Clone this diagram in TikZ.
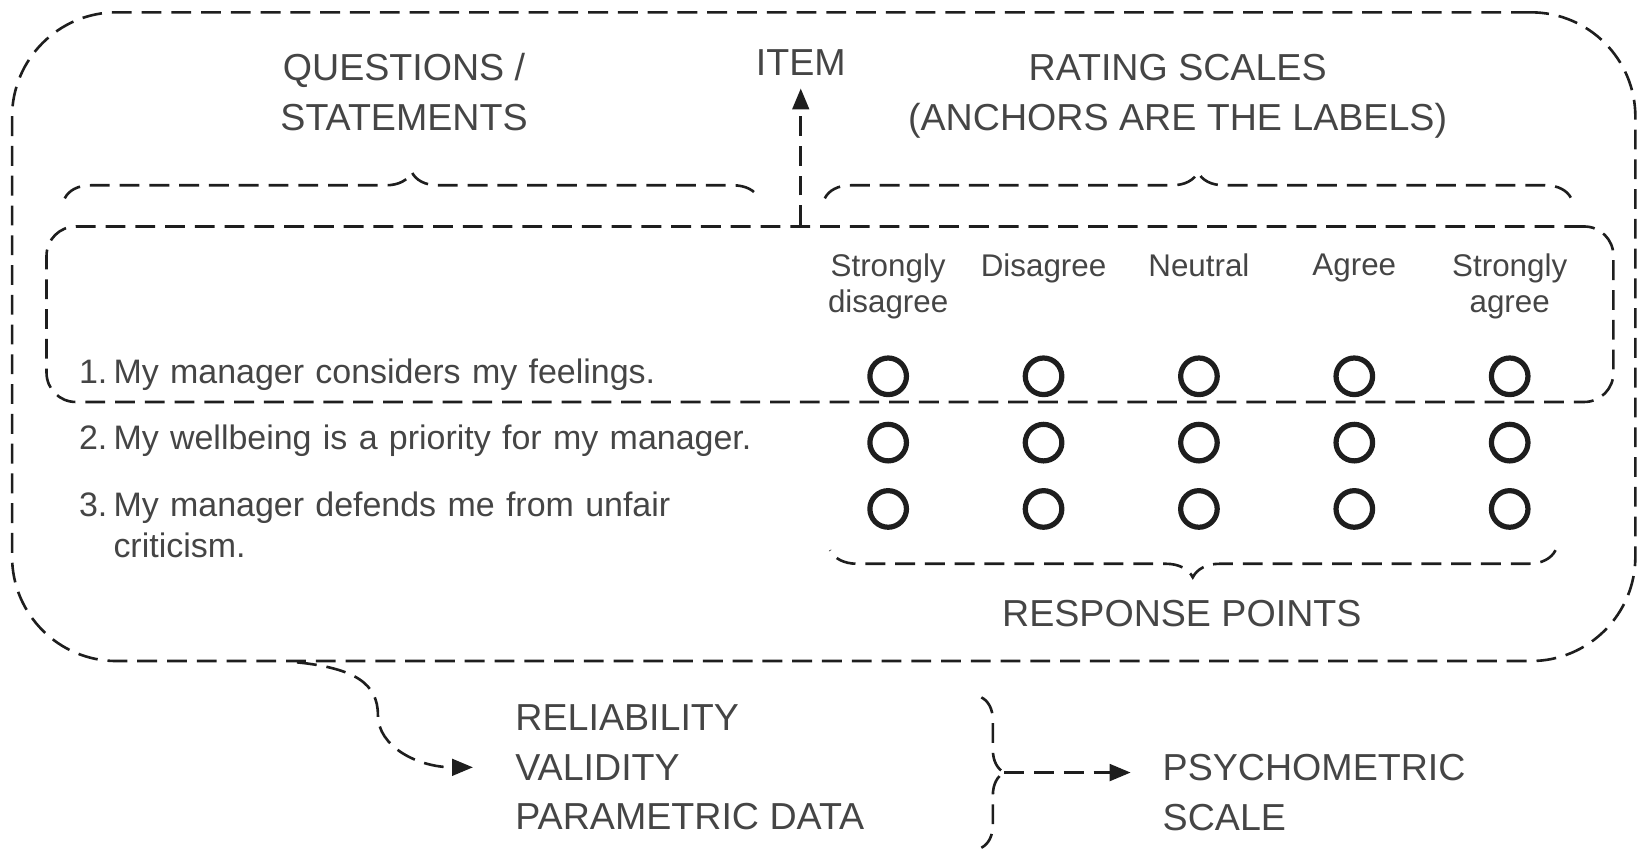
\documentclass[tikz,border=0pt]{standalone}
\usepackage{fontspec}
\setmainfont{Liberation Sans}
\usetikzlibrary{matrix,positioning,shapes.geometric,arrows.meta,decorations.pathreplacing}

\definecolor{ink}{HTML}{1E1E1E}
\definecolor{textgray}{HTML}{454545}
\newcommand{\capsfont}{\fontsize{10.24pt}{13.5pt}\selectfont}
\newcommand{\stmtfont}{\fontsize{9.25pt}{11.1pt}\selectfont}
\newcommand{\headfont}{\fontsize{8.54pt}{9.67pt}\selectfont}
\newcommand{\qnum}[1]{\makebox[0.33cm][l]{#1}}

\tikzset{
  dashline/.style={draw=ink, line width=0.025cm, dash pattern=on 0.19cm off 0.095cm},
  frame/.style={dashline, inner sep=0pt},
  bigtext/.style={text=textgray, font=\capsfont, align=center},
  stmt/.style={anchor=base west, inner sep=0pt, text width=6.9cm, align=left, font=\stmtfont, text=textgray},
  link/.style={dashline, -{Triangle[length=0.2cm,width=0.16cm]}},
  curly/.style={dashline, decorate, decoration={brace, amplitude=#1}},
}

\begin{document}
\begin{tikzpicture}[x=0.01cm, y=-0.01cm]
\useasboundingbox (0,0) rectangle (1568,816);

\node[frame, rounded corners=1.0cm, minimum width=15.54cm, minimum height=6.21cm] (outer) at (789,322.5) {};
\node[frame, rounded corners=0.28cm, minimum width=15.00cm, minimum height=1.68cm] (itembox) at (795,301) {};

\node[bigtext] (questions) at (387,88) {QUESTIONS /\\STATEMENTS};
\node[bigtext] (item) at (767,60) {ITEM};
\node[bigtext] (scales) at (1128,92) {RATING SCALES\\(ANCHORS ARE THE LABELS)};

\draw[curly=0.25cm] (62,190) -- (727,190);
\draw[curly=0.25cm] (790,190) -- (1505,190);

\matrix[anchor=north west, inner sep=0pt, column sep=0.0875cm, row sep=0.235cm, ampersand replacement=\&,
  head/.style={anchor=north, inner sep=0pt, text width=1.40cm, align=center, font=\headfont, text=textgray},
  dot/.style={draw=ink, circle, anchor=center, inner sep=0pt, line width=0.05cm, minimum size=0.35cm}] (rating) at (780,242)
  {
    \node[head]{Strongly\\disagree}; \& \node[head]{Disagree}; \& \node[head]{Neutral}; \& \node[head]{Agree}; \& \node[head]{Strongly\\agree}; \\[0.115cm]
    \node[dot] (pt1) {}; \& \node[dot]{}; \& \node[dot]{}; \& \node[dot]{}; \& \node[dot]{}; \\
    \node[dot] (pt2) {}; \& \node[dot]{}; \& \node[dot]{}; \& \node[dot]{}; \& \node[dot]{}; \\
    \node[dot] (pt3) {}; \& \node[dot]{}; \& \node[dot]{}; \& \node[dot]{}; \& \node[dot]{}; \\
  };

\coordinate (qleft) at (75,0);
\node[stmt, yshift=-0.07cm] (s1) at (pt1 -| qleft) {\qnum{1.}My manager considers my feelings.};
\node[stmt, yshift=-0.07cm] (s2) at (pt2 -| qleft) {\qnum{2.}My wellbeing is a priority for my manager.};
\node[stmt, yshift=-0.07cm] (s3) at (pt3 -| qleft) {\qnum{3.}My manager defends me from unfair\\\hspace*{0.33cm}criticism.};

\draw[curly=0.26cm] (1490,527) -- (795,527);
\node[bigtext] (points) at (1132,588) {RESPONSE POINTS};

\node[bigtext, align=left, anchor=west, inner sep=0pt] (checks) at (493,735) {RELIABILITY\\VALIDITY\\PARAMETRIC DATA};
\node[bigtext, align=left, anchor=west, inner sep=0pt] (psycho) at (1113,759) {PSYCHOMETRIC\\SCALE};
\draw[curly=0.22cm] (940,668) -- (940,812);
\coordinate (bracetip) at (962,740);

\draw[link] (item.south |- itembox.north) -- (item.south);
\coordinate (split) at ([xshift=2.74cm]outer.south west);
\draw[link] (split) .. controls (340,640) and (362,655) .. (362,685) .. controls (362,715) and (400,735) .. ([xshift=-0.4cm]checks.west);
\draw[link, shorten >=0.3cm] (bracetip) -- (bracetip -| psycho.west);
\end{tikzpicture}
\end{document}
